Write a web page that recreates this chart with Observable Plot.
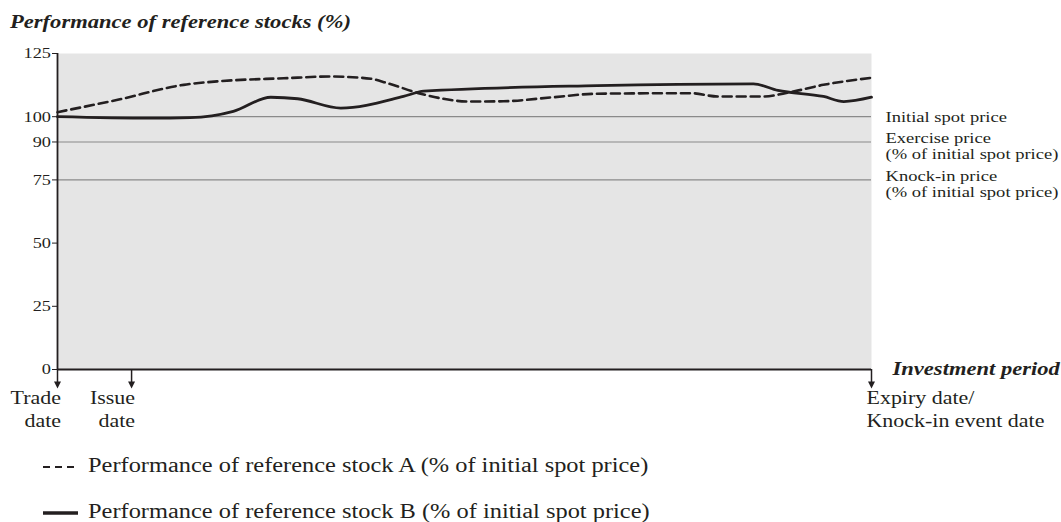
<!DOCTYPE html>
<html>
<head>
<meta charset="utf-8">
<script src="https://cdn.jsdelivr.net/npm/d3@7"></script>
<script src="https://cdn.jsdelivr.net/npm/@observablehq/plot@0.6"></script>
<style>
  html, body { margin: 0; padding: 0; background: #fff; }
  #wrap { position: relative; width: 1061px; height: 522px; overflow: hidden; font-family: "Liberation Serif", "Times New Roman", serif; color: #231f20; }
  #chart { position: absolute; left: 0; top: 0; }
  .stretch { display: inline-block; transform: scaleX(1.22); transform-origin: 0 0; white-space: nowrap; }
  #title { position: absolute; left: 10px; top: 13px; font-size: 18.5px; line-height: 18.5px; font-weight: bold; font-style: italic; }
  .leg { position: absolute; left: 88px; font-size: 20px; line-height: 20px; }
  .legsample { position: absolute; left: 43px; }
</style>
</head>
<body>
<div id="wrap">
  <div id="chart"></div>
  <div id="title"><span class="stretch">Performance of reference stocks (%)</span></div>
  <div id="legend"></div>
</div>
<script>
// ---- data (t = % of investment period, value = % of initial spot price) ----
const timeA  = [0, 7.4, 15.5, 19.7, 27.8, 33.5, 38.5, 40.5, 44.6, 50.7, 54.8, 60.9, 66.3, 77.8, 81.1, 86.7, 90.0, 94.1, 100];
const stockA = [101.8, 106.7, 112.6, 114.0, 115.2, 115.9, 115.0, 113.3, 109.1, 106.0, 106.1, 107.7, 109.1, 109.3, 108.0, 108.0, 109.7, 112.6, 115.4];
const timeB  = [0, 11.4, 16.3, 21.6, 26.2, 29.5, 34.8, 42.5, 45.0, 66.3, 85.5, 88.5, 94.1, 96.6, 100];
const stockB = [100.0, 99.4, 99.6, 102.1, 107.7, 107.1, 103.4, 108.0, 110.1, 112.3, 113.0, 110.4, 108.0, 106.0, 107.7];

const yTicks = [0, 25, 50, 75, 90, 100, 125];
const refLevels = [100, 90, 75];
const refLabels = ["Initial spot price", "Exercise price\n(% of initial spot price)", "Knock-in price\n(% of initial spot price)"];
const eventTimes = [0, 9.1, 100];
const eventLabels = ["Trade\ndate", "Issue\ndate", "Expiry date/\nKnock-in event date"];
const axisTitle = "Investment period";
const legendLabels = [
  "Performance of reference stock A (% of initial spot price)",
  "Performance of reference stock B (% of initial spot price)"
];

const ink = "#231f20";
const seriesA = timeA.map((t, i) => ({t, v: stockA[i]}));
const seriesB = timeB.map((t, i) => ({t, v: stockB[i]}));
const refs = refLevels.map((y, i) => ({y, label: refLabels[i]}));
const events = eventTimes.map((t, i) => ({t, label: eventLabels[i]}));

const downTriangle = {
  draw(ctx, size) {
    const s = Math.sqrt(size / Math.PI);
    ctx.moveTo(-s, -s);
    ctx.lineTo(s, -s);
    ctx.lineTo(0, s);
    ctx.closePath();
  }
};

const chart = Plot.plot({
  width: 1061,
  height: 440,
  marginTop: 53,
  marginBottom: 71,
  marginLeft: 57,
  marginRight: 190,
  style: {fontFamily: "Liberation Serif, Times New Roman, serif", fontSize: "15px", color: ink, background: "transparent", overflow: "visible"},
  x: {domain: [0, 100], axis: null},
  y: {domain: [0, 125], ticks: yTicks, tickSize: 5, tickPadding: 1.5, tickFormat: d => String(d), label: null},
  marks: [
    Plot.frame({fill: "#e5e5e5", stroke: "none"}),
    Plot.ruleY(refLevels, {stroke: "#8a8a8a", strokeWidth: 1.2}),
    Plot.ruleX([0], {stroke: ink, strokeWidth: 1.8}),
    Plot.ruleY([0], {stroke: ink, strokeWidth: 1.8}),
    Plot.line(seriesA, {x: "t", y: "v", curve: "monotone-x", stroke: ink, strokeWidth: 2.6, strokeDasharray: "9,5"}),
    Plot.line(seriesB, {x: "t", y: "v", curve: "monotone-x", stroke: ink, strokeWidth: 2.8}),
    // right-hand labels of reference levels
    Plot.text(refs.filter(d => !d.label.includes("\n")), {x: () => 100, y: "y", text: "label", textAnchor: "start", lineAnchor: "middle", dx: 14, fontSize: 15.2, fill: ink}),
    Plot.text(refs.filter(d => d.label.includes("\n")), {x: () => 100, y: "y", text: "label", textAnchor: "start", lineAnchor: "middle", lineHeight: 1.05, dx: 14, dy: 4, fontSize: 15.2, fill: ink}),
    // event arrows below the time axis
    Plot.ruleX(events, {x: "t", y1: () => 0, y2: () => 0, insetBottom: -13, stroke: ink, strokeWidth: 1.5}),
    Plot.dot(events, {x: "t", y: () => 0, dy: 15.5, r: 3.5, symbol: () => downTriangle, fill: ink, stroke: "none"}),
    Plot.text(events.filter(d => d.t < 50), {x: "t", y: () => 0, text: "label", textAnchor: "end", lineAnchor: "top", lineHeight: 1.25, dx: 3.5, dy: 19, fontSize: 18, fill: ink}),
    Plot.text(events.filter(d => d.t >= 50), {x: "t", y: () => 0, text: "label", textAnchor: "start", lineAnchor: "top", lineHeight: 1.25, dx: -5, dy: 19, fontSize: 18, fill: ink}),
    Plot.text([axisTitle], {x: () => 100, y: () => 0, text: d => d, textAnchor: "start", lineAnchor: "middle", dx: 21, fontSize: 18.5, fontWeight: "bold", fontStyle: "italic", fill: ink})
  ]
});

// horizontally stretch all text to match the reference's wide serif type
chart.querySelectorAll("text").forEach(el => {
  const tr = el.getAttribute("transform") || "";
  el.setAttribute("transform", (tr + " scale(1.22,1)").trim());
});
chart.querySelectorAll(".tick line, [aria-label='y-axis tick'] path").forEach(el => el.setAttribute("stroke", ink));
document.getElementById("chart").appendChild(chart);

// legend
const legend = document.getElementById("legend");
const rows = [{c: 467, dash: "7,5", w: 1.8}, {c: 513, dash: null, w: 3.6}];
rows.forEach((r, i) => {
  const s = document.createElementNS("http://www.w3.org/2000/svg", "svg");
  s.setAttribute("class", "legsample");
  s.setAttribute("width", 36); s.setAttribute("height", 10);
  s.style.top = (r.c - 5) + "px";
  const ln = document.createElementNS("http://www.w3.org/2000/svg", "line");
  ln.setAttribute("x1", 0); ln.setAttribute("x2", 35); ln.setAttribute("y1", 5); ln.setAttribute("y2", 5);
  ln.setAttribute("stroke", ink); ln.setAttribute("stroke-width", r.w);
  if (r.dash) ln.setAttribute("stroke-dasharray", r.dash);
  s.appendChild(ln);
  legend.appendChild(s);
  const d = document.createElement("div");
  d.className = "leg";
  d.style.top = (r.c - 12.3) + "px";
  d.innerHTML = `<span class="stretch"></span>`;
  d.firstChild.textContent = legendLabels[i];
  legend.appendChild(d);
});
</script>
</body>
</html>
